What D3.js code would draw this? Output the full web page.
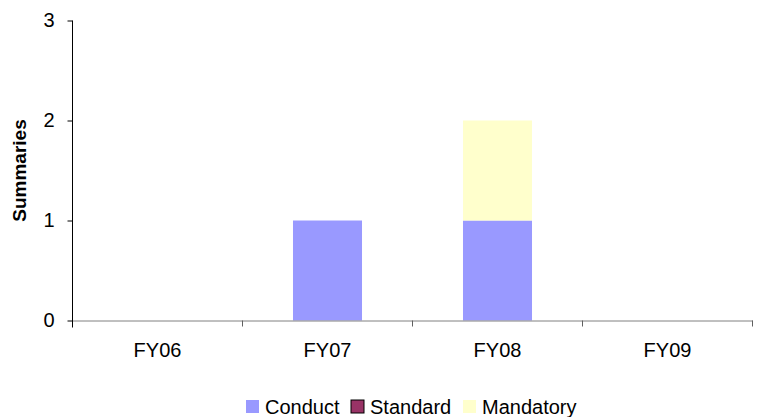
<!DOCTYPE html>
<html>
<head>
<meta charset="utf-8">
<script src="https://cdn.jsdelivr.net/npm/d3@7"></script>
<style>
  body { margin: 0; background: #fff; }
  svg { display: block; font-family: 'Liberation Sans', Arial, sans-serif; }
</style>
</head>
<body>
<svg id="chart" width="759" height="417"></svg>
<script>
const categories = ['FY06', 'FY07', 'FY08', 'FY09'];
const seriesNames = ['Conduct', 'Standard', 'Mandatory'];
const conduct = [0, 1, 1, 0];
const standard = [0, 0, 0, 0];
const mandatory = [0, 0, 1, 0];
const yTicks = [0, 1, 2, 3];
const colors = ['#9999ff', '#993366', '#ffffcc'];

const rows = categories.map((c, i) => ({
  cat: c,
  Conduct: conduct[i],
  Standard: standard[i],
  Mandatory: mandatory[i]
}));

const svg = d3.select('#chart');
const plotLeft = 72.5, plotRight = 752.5, plotTop = 20.5, plotBottom = 320.5;

const x = d3.scaleBand().domain(categories).range([plotLeft, plotRight]);
const y = d3.scaleLinear().domain([0, 3]).range([plotBottom, plotTop]);
const barW = x.bandwidth() * 0.406;

const stacked = d3.stack().keys(seriesNames)(rows);

// bars
svg.append('g')
  .selectAll('g')
  .data(stacked)
  .enter()
  .append('g')
  .attr('fill', (d, i) => colors[i])
  .selectAll('rect')
  .data(d => d)
  .enter()
  .append('rect')
  .attr('x', d => x(d.data.cat) + (x.bandwidth() - barW) / 2)
  .attr('y', d => y(d[1]))
  .attr('width', barW)
  .attr('height', d => y(d[0]) - y(d[1]));

// x axis
const xAxis = svg.append('g')
  .attr('transform', `translate(0, ${plotBottom})`)
  .call(d3.axisBottom(x).tickSize(0).tickPadding(22));
xAxis.select('.domain').attr('stroke', '#808080');
xAxis.selectAll('text')
  .attr('font-size', 20)
  .attr('fill', '#000')
  .attr('font-family', 'Liberation Sans, Arial, sans-serif');

// tick marks on category boundaries
svg.append('g')
  .selectAll('line')
  .data(categories.slice(1).concat(['end']))
  .enter()
  .append('line')
  .attr('x1', d => d === 'end' ? plotRight : x(d))
  .attr('x2', d => d === 'end' ? plotRight : x(d))
  .attr('y1', plotBottom)
  .attr('y2', plotBottom + 6)
  .attr('stroke', '#606060');

// y axis
const yAxis = svg.append('g')
  .attr('transform', `translate(${plotLeft}, 0)`)
  .call(d3.axisLeft(y).tickValues(yTicks).tickSize(5).tickPadding(13).tickFormat(d3.format('d')));
yAxis.select('.domain').remove();
yAxis.selectAll('line').attr('stroke', '#000');
yAxis.selectAll('text')
  .attr('font-size', 20)
  .attr('fill', '#000')
  .attr('font-family', 'Liberation Sans, Arial, sans-serif');
svg.append('line')
  .attr('x1', plotLeft).attr('x2', plotLeft)
  .attr('y1', y(3)).attr('y2', y(0) + 7)
  .attr('stroke', '#000');

// y title
svg.append('text')
  .attr('transform', `translate(26, ${(plotTop + plotBottom) / 2}) rotate(-90)`)
  .attr('text-anchor', 'middle')
  .attr('font-size', 19)
  .attr('font-weight', 'bold')
  .text('Summaries');

// legend
const legendX = [246, 351, 463];
const legend = svg.append('g')
  .selectAll('g')
  .data(seriesNames)
  .enter()
  .append('g')
  .attr('transform', (d, i) => `translate(${legendX[i]}, 400)`);

legend.append('rect')
  .attr('width', 13)
  .attr('height', 13)
  .attr('fill', (d, i) => colors[i])
  .attr('stroke', (d, i) => i === 1 ? '#000' : 'none');

legend.append('text')
  .attr('x', 19)
  .attr('y', 14)
  .attr('font-size', 20)
  .text(d => d);
</script>
</body>
</html>
